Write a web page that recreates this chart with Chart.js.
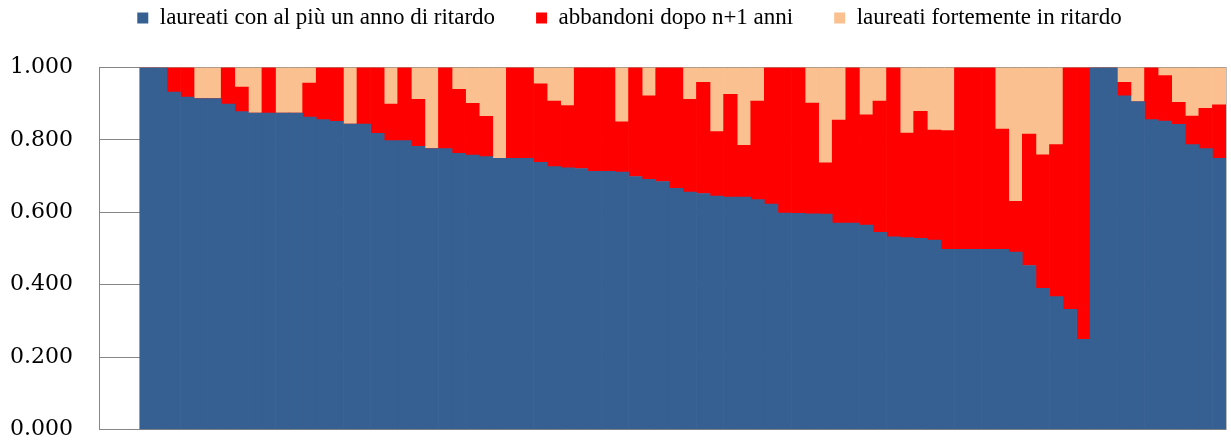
<!DOCTYPE html>
<html>
<head>
<meta charset="utf-8">
<script src="https://cdn.jsdelivr.net/npm/chart.js@4/dist/chart.umd.min.js"></script>
<style>
  html, body { margin: 0; padding: 0; background: #ffffff; }
  #wrap { width: 1231px; height: 445px; }
</style>
</head>
<body>
<div id="wrap"><canvas id="c" width="1231" height="445"></canvas></div>
<script>
// 83 category slots; the first three are empty in the original chart
const categories = Array.from({ length: 83 }, (_, i) => String(i + 1));

const seriesNames = [
  'laureati con al più un anno di ritardo',
  'abbandoni dopo n+1 anni',
  'laureati fortemente in ritardo'
];

const laureatiRegolari = [
  null, null, null,
  1.000, 1.000, 0.932, 0.918, 0.914, 0.914, 0.899, 0.878, 0.874, 0.874,
  0.874, 0.874, 0.863, 0.856, 0.851, 0.844, 0.844, 0.818, 0.798, 0.798,
  0.782, 0.776, 0.776, 0.763, 0.758, 0.754, 0.749, 0.749, 0.749, 0.738,
  0.726, 0.723, 0.721, 0.713, 0.713, 0.711, 0.699, 0.691, 0.685, 0.666,
  0.656, 0.652, 0.645, 0.642, 0.642, 0.635, 0.623, 0.598, 0.597, 0.596,
  0.595, 0.570, 0.570, 0.565, 0.545, 0.532, 0.530, 0.528, 0.523, 0.498,
  0.498, 0.498, 0.498, 0.498, 0.490, 0.453, 0.390, 0.367, 0.332, 0.249,
  1.000, 1.000, 0.922, 0.906, 0.856, 0.852, 0.843, 0.787, 0.776, 0.749
];

const abbandoni = [
  null, null, null,
  0, 0, 0.068, 0.082, 0, 0, 0.101, 0.068, 0, 0.126,
  0, 0, 0.094, 0.144, 0.149, 0, 0.156, 0.182, 0.101, 0.202,
  0.130, 0, 0.224, 0.177, 0.143, 0.111, 0, 0.251, 0.251, 0.217,
  0.181, 0.172, 0.279, 0.287, 0.287, 0.139, 0.301, 0.231, 0.315, 0.334,
  0.256, 0.307, 0.178, 0.284, 0.143, 0.272, 0.377, 0.402, 0.403, 0.306,
  0.142, 0.285, 0.430, 0.304, 0.362, 0.468, 0.289, 0.351, 0.304, 0.328,
  0.502, 0.502, 0.502, 0.332, 0.140, 0.363, 0.369, 0.420, 0.668, 0.751,
  0, 0, 0.037, 0, 0.144, 0.126, 0.061, 0.079, 0.111, 0.148
];

const laureatiRitardo = [
  null, null, null,
  0, 0, 0, 0, 0.086, 0.086, 0, 0.054, 0.126, 0,
  0.126, 0.126, 0.043, 0, 0, 0.156, 0, 0, 0.101, 0,
  0.088, 0.224, 0, 0.060, 0.099, 0.135, 0.251, 0, 0, 0.045,
  0.093, 0.105, 0, 0, 0, 0.150, 0, 0.078, 0, 0,
  0.088, 0.041, 0.177, 0.074, 0.215, 0.093, 0, 0, 0, 0.098,
  0.263, 0.145, 0, 0.131, 0.093, 0, 0.181, 0.121, 0.173, 0.174,
  0, 0, 0, 0.170, 0.370, 0.184, 0.241, 0.213, 0, 0,
  0, 0, 0.041, 0.094, 0, 0.022, 0.096, 0.134, 0.113, 0.103
];

const yTicks = [0, 0.2, 0.4, 0.6, 0.8, 1.0];

const colors = ['#376092', '#FF0000', '#FAC090'];
const axisGrey = '#868686';

new Chart(document.getElementById('c'), {
  type: 'bar',
  data: {
    labels: categories,
    datasets: [
      { label: seriesNames[0], data: laureatiRegolari, backgroundColor: colors[0], borderWidth: 0 },
      { label: seriesNames[1], data: abbandoni, backgroundColor: colors[1], borderWidth: 0 },
      { label: seriesNames[2], data: laureatiRitardo, backgroundColor: colors[2], borderWidth: 0 }
    ]
  },
  options: {
    responsive: false,
    animation: false,
    events: [],
    layout: { padding: { top: -34.5, left: 5, right: -23, bottom: 15.5 } },
    datasets: { bar: { categoryPercentage: 1.0, barPercentage: 1.0 } },
    plugins: {
      tooltip: { enabled: false },
      legend: {
        display: true,
        position: 'top',
        labels: {
          color: '#000000',
          font: { family: "'Liberation Serif', serif", size: 23 },
          boxWidth: 11,
          boxHeight: 11,
          padding: 41
        }
      }
    },
    scales: {
      x: {
        type: 'category',
        stacked: true,
        position: 'bottom',
        grid: { display: false, drawTicks: false },
        border: { display: true, color: axisGrey, width: 1 },
        ticks: { display: false }
      },
      xTop: {
        type: 'category',
        position: 'top',
        display: true,
        grid: { display: false, drawTicks: false },
        border: { display: false },
        ticks: { display: false },
        afterFit: (s) => { s.height = 28; }
      },
      y: {
        stacked: true,
        min: 0,
        max: 1,
        afterBuildTicks: (s) => { s.ticks = yTicks.map(v => ({ value: v })); },
        grid: { display: true, color: axisGrey, lineWidth: 1, drawTicks: false },
        border: { display: true, color: axisGrey, width: 1 },
        ticks: {
          color: '#000000',
          padding: 26,
          font: { family: "'DejaVu Serif', serif", size: 22 },
          callback: (v) => Number(v).toFixed(3)
        },
        afterFit: (s) => { s.width = 94; s.paddingTop = 0; s.paddingBottom = 0; }
      },
      yR: {
        position: 'right',
        display: true,
        min: 0,
        max: 1,
        grid: { display: false, drawTicks: false },
        border: { display: true, color: '#bdbdbd', width: 1 },
        ticks: { display: false },
        afterFit: (s) => { s.width = 28; }
      }
    }
  }
});
</script>
</body>
</html>
